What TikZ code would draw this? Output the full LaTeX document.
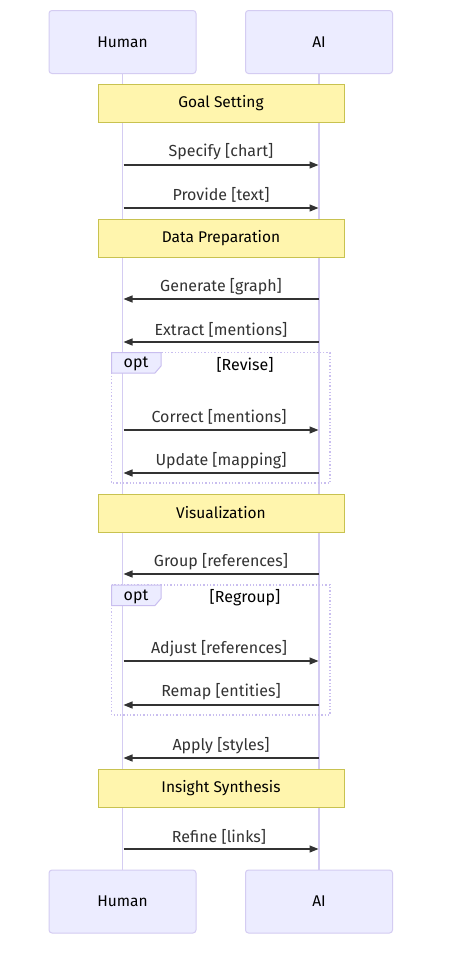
\documentclass[tikz,border=0pt]{standalone}
\usepackage{fontspec}
\setmainfont{Fira Sans}
\usetikzlibrary{arrows.meta}
\definecolor{actfill}{HTML}{ECECFF}
\definecolor{actline}{HTML}{D4CCF2}
\definecolor{notefill}{HTML}{FFF5AD}
\definecolor{noteline}{HTML}{C8C250}
\definecolor{msgc}{HTML}{333333}
\definecolor{loopc}{HTML}{C9BEEF}
\tikzset{
  x=1pt, y=-1pt,
  actor/.style={draw=actline, fill=actfill, rounded corners=3pt, line width=1pt,
    minimum width=147pt, minimum height=63pt, inner sep=0pt,
    font=\fontsize{15.5}{18}\selectfont, text=black},
  note/.style={draw=noteline, fill=notefill, line width=1pt,
    minimum width=246pt, minimum height=38pt, inner sep=0pt,
    font=\fontsize{15.5}{18}\selectfont, text=black},
  life/.style={draw=actline, line width=1.5pt},
  msg/.style={draw=msgc, line width=1.2pt, -{Triangle[length=9pt,width=7pt]}},
  lbl/.style={font=\fontsize{16}{18}\selectfont, text=msgc, inner sep=0pt},
  loopbox/.style={draw=loopc, line width=1.3pt, dotted},
  tab/.style={draw=loopc, fill=actfill, line width=1pt},
}
\begin{document}
\begin{tikzpicture}
\useasboundingbox (0,0) rectangle (450,961);
\fill[white] (0,0) rectangle (450,961);
% actors
\node[actor] (hT) at (122.5,42) {Human};
\node[actor] (aT) at (319,42) {AI};
\node[actor] (hB) at (122.5,901.5) {Human};
\node[actor] (aB) at (319,901.5) {AI};
% lifelines
\draw[life] (hT.south) -- (hB.north);
\draw[life] (aT.south) -- (aB.north);
% opt boxes
\draw[loopbox] (111.5,352.5) rectangle (330,483);
\draw[tab] (111.5,352.5) -- (161,352.5) -- (161,366) -- (155,373) -- (111.5,373) -- cycle;
\node[lbl, text=black] (opt1) at (136,364) {opt};
\node[lbl, text=black] (rev) at (245,365) {[Revise]};
\draw[loopbox] (111.5,585) rectangle (330,715);
\draw[tab] (111.5,585) -- (161,585) -- (161,598.5) -- (155,605.5) -- (111.5,605.5) -- cycle;
\node[lbl, text=black] (opt2) at (136,596.5) {opt};
\node[lbl, text=black] (regr) at (245,598) {[Regroup]};
% notes
\node[note] (n1) at (221,103) {Goal Setting};
\node[note] (n2) at (221,238) {Data Preparation};
\node[note] (n3) at (221,513) {Visualization};
\node[note] (n4) at (221,788) {Insight Synthesis};
% message coordinates
\foreach \i/\y in {1/165,2/208,3/299,4/342,5/430,6/473,7/574,8/661,9/705,10/758,11/849}{
  \coordinate (h\i) at (123.5,\y);
  \coordinate (a\i) at (318.5,\y);
}
\draw[msg] (h1) -- (a1);
\node[lbl] (m1) at (221,152) {Specify [chart]};
\draw[msg] (h2) -- (a2);
\node[lbl] (m2) at (221,195) {Provide [text]};
\draw[msg] (a3) -- (h3);
\node[lbl] (m3) at (221,286.5) {Generate [graph]};
\draw[msg] (a4) -- (h4);
\node[lbl] (m4) at (221,329.5) {Extract [mentions]};
\draw[msg] (h5) -- (a5);
\node[lbl] (m5) at (219,417) {Correct [mentions]};
\draw[msg] (a6) -- (h6);
\node[lbl] (m6) at (221,460.5) {Update [mapping]};
\draw[msg] (a7) -- (h7);
\node[lbl] (m7) at (221,561.5) {Group [references]};
\draw[msg] (h8) -- (a8);
\node[lbl] (m8) at (219,648.5) {Adjust [references]};
\draw[msg] (a9) -- (h9);
\node[lbl] (m9) at (221,692) {Remap [entities]};
\draw[msg] (a10) -- (h10);
\node[lbl] (m10) at (221,745.5) {Apply [styles]};
\draw[msg] (h11) -- (a11);
\node[lbl] (m11) at (219,836.5) {Refine [links]};
\end{tikzpicture}
\end{document}
